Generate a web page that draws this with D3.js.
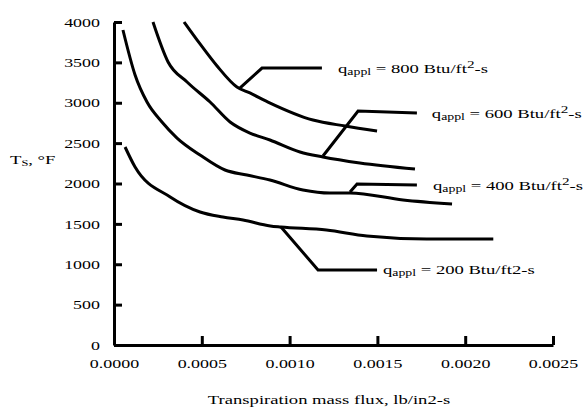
<!DOCTYPE html>
<html>
<head>
<meta charset="utf-8">
<script src="https://cdn.jsdelivr.net/npm/d3@7"></script>
<style>
  body { margin: 0; background: #fff; }
  svg text { font-family: "Liberation Serif", "Times New Roman", serif; fill: #000; }
</style>
</head>
<body>
<svg id="chart" width="583" height="408"></svg>
<script>
// values
const xTicks = [0, 0.0005, 0.0010, 0.0015, 0.0020, 0.0025];
const yTicks = [0, 500, 1000, 1500, 2000, 2500, 3000, 3500, 4000];

const flux200 = [0.000063, 0.00012, 0.00032, 0.00049, 0.00062, 0.000735, 0.00089, 0.00095, 0.00121, 0.00144, 0.00178, 0.00216];
const temp200 = [2452, 2204, 1833, 1647, 1585, 1548, 1474, 1461, 1424, 1350, 1313, 1313];

const flux400 = [0.000051, 0.00012, 0.000188, 0.000273, 0.000359, 0.00049, 0.000632, 0.000757, 0.000888, 0.001076, 0.00123, 0.001344, 0.001646, 0.001925];
const temp400 = [3901, 3344, 3009, 2762, 2563, 2353, 2167, 2105, 2043, 1920, 1882, 1882, 1796, 1746];

const flux600 = [0.000222, 0.000308, 0.000416, 0.000547, 0.000661, 0.000774, 0.000888, 0.001059, 0.00119, 0.0014, 0.001714];
const temp600 = [4000, 3505, 3257, 3009, 2762, 2625, 2539, 2390, 2328, 2254, 2179];

const flux800 = [0.000399, 0.00049, 0.000587, 0.0007, 0.000774, 0.000877, 0.001133, 0.001316, 0.001498];
const temp800 = [4000, 3728, 3455, 3195, 3121, 3009, 2786, 2712, 2650];

const heatLoads = ["800", "600", "400", "200"];
const superscript2 = [true, true, true, false];
// leader lines: [flux, temp] corner points, label anchor
const leaderFlux = [[0.000718, 0.000843, 0.001184], [0.00119, 0.00139, 0.001725], [0.001344, 0.001384, 0.001725], [0.000951, 0.001162, 0.001498]];
const leaderTemp = [[3183, 3430, 3430], [2341, 2898, 2873], [1895, 1994, 1981], [1461, 929, 929]];
const labelFlux = [0.001276, 0.00181, 0.001817, 0.001532];

const SX = 1.38; // the reference type is stretched sideways

const svg = d3.select("#chart");
const x = d3.scaleLinear().domain([0, 0.0025]).range([114, 553]);
const y = d3.scaleLinear().domain([0, 4000]).range([345, 22]);

// axes
const yAxis = svg.append("g").attr("transform", "translate(114,0)")
  .call(d3.axisLeft(y).tickValues(yTicks).tickFormat(d3.format("d"))
    .tickSize(-8).tickSizeOuter(0).tickPadding(14));
const xAxis = svg.append("g").attr("transform", "translate(0,345)")
  .call(d3.axisBottom(x).tickValues(xTicks).tickFormat(d3.format(".4f"))
    .tickSize(-9).tickSizeOuter(0).tickPadding(14));

[yAxis, xAxis].forEach(a => {
  a.select(".domain").attr("stroke", "#000").attr("stroke-width", 3);
  a.selectAll(".tick line").attr("stroke", "#000").attr("stroke-width", 3);
  a.selectAll(".tick text").attr("font-size", 13)
    .attr("font-family", "Liberation Serif, serif").attr("fill", "#000");
});
yAxis.selectAll(".tick text").attr("x", -14 / SX).attr("transform", `scale(${SX},1)`);
xAxis.selectAll(".tick text").attr("transform", `scale(${SX},1)`).attr("y", 14).attr("dy", "0.71em");

// curves
const series = [[flux800, temp800], [flux600, temp600], [flux400, temp400], [flux200, temp200]];
const line = d3.line().x(d => x(d[0])).y(d => y(d[1])).curve(d3.curveMonotoneX);
svg.append("g").selectAll("path").data(series).join("path")
  .attr("d", s => line(s[0].map((f, i) => [f, s[1][i]])))
  .attr("fill", "none").attr("stroke", "#000").attr("stroke-width", 3)
  .attr("stroke-linejoin", "round").attr("stroke-linecap", "butt");

// leader lines
const leader = d3.line().x(d => x(d[0])).y(d => y(d[1]));
svg.append("g").selectAll("path").data(leaderFlux).join("path")
  .attr("d", (f, i) => leader(f.map((v, j) => [v, leaderTemp[i][j]])))
  .attr("fill", "none").attr("stroke", "#000").attr("stroke-width", 3)
  .attr("stroke-linejoin", "miter");

// labels
heatLoads.forEach((q, i) => {
  const ty = leaderTemp[i][2];
  const t = svg.append("g")
    .attr("transform", `translate(${x(labelFlux[i])},${y(ty) + 4.5}) scale(${SX},1)`)
    .append("text").attr("font-size", 13.5);
  t.append("tspan").text("q");
  t.append("tspan").attr("font-size", 10).attr("dy", 2).text("appl");
  t.append("tspan").attr("dy", -2).text(` = ${q} Btu/ft`);
  if (superscript2[i]) {
    t.append("tspan").attr("font-size", 11).attr("dy", -5).text("2");
    t.append("tspan").attr("dy", 5).text("-s");
  } else {
    t.append("tspan").text("2-s");
  }
});

// axis titles
const xt = svg.append("g").attr("transform", `translate(329,404) scale(${SX},1)`)
  .append("text").attr("font-size", 13.5).attr("text-anchor", "middle")
  .text("Transpiration mass  flux, lb/in2-s");

const yt = svg.append("g").attr("transform", `translate(10,164) scale(${SX},1)`)
  .append("text").attr("font-size", 13.5);
yt.append("tspan").text("T");
yt.append("tspan").attr("font-size", 9).attr("dy", 2).text("S");
yt.append("tspan").attr("dy", -2).text(", °F");
</script>
</body>
</html>
